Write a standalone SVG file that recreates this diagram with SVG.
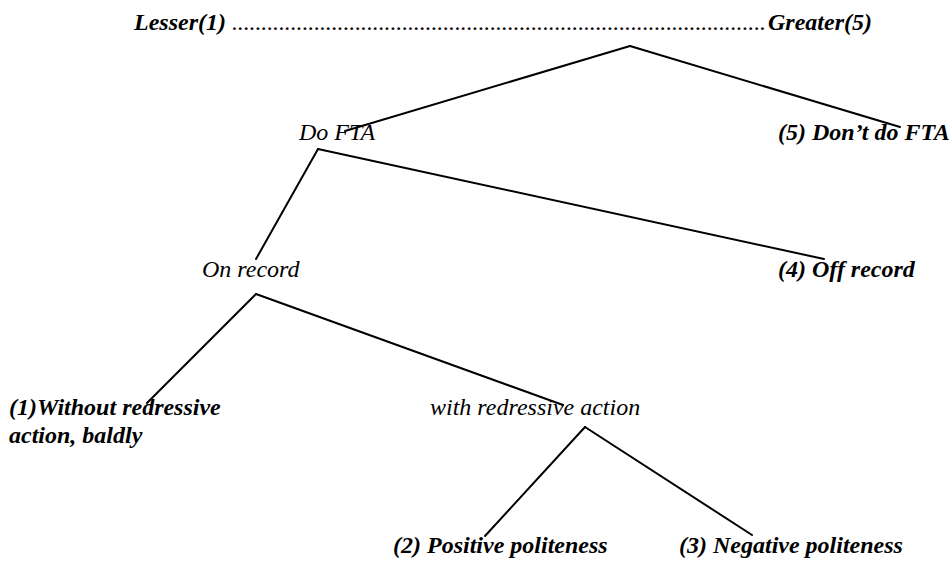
<svg xmlns="http://www.w3.org/2000/svg" width="952" height="561" viewBox="0 0 952 561">
  <style>
    .t { font-family: 'Liberation Serif', 'Times New Roman', Times, serif; font-size: 24px; font-style: italic; fill: #000; }
    .b { font-weight: bold; }
    .conn line { stroke: #000; stroke-width: 2; fill: none; stroke-linecap: round; }
  </style>
  <rect width="952" height="561" fill="#fff"/>
  <g id="scale" class="t">
    <text class="b" x="134" y="30">Lesser(1)</text>
    <text x="232" y="30" textLength="534" lengthAdjust="spacing">...........................................................................................</text>
    <text class="b" x="768" y="30">Greater(5)</text>
  </g>
  <g class="conn" id="connectors">
    <line x1="630" y1="46" x2="345" y2="131"/>
    <line x1="630" y1="46" x2="900" y2="127"/>
    <line x1="318" y1="149" x2="256" y2="259"/>
    <line x1="318" y1="149" x2="824" y2="259"/>
    <line x1="256" y1="294" x2="147" y2="403"/>
    <line x1="256" y1="294" x2="563" y2="405"/>
    <line x1="585" y1="427" x2="485" y2="536"/>
    <line x1="585" y1="427" x2="752" y2="535"/>
  </g>
  <g class="t">
    <g id="do-fta"><text x="299" y="140">Do FTA</text></g>
    <g id="dont-do-fta"><text class="b" x="778" y="140">(5) Don’t do FTA</text></g>
    <g id="on-record"><text x="202" y="277">On record</text></g>
    <g id="off-record"><text class="b" x="778" y="277">(4) Off record</text></g>
    <g id="without-redress"><text class="b" x="9" y="415">(1)Without redressive</text><text class="b" x="9" y="443">action, baldly</text></g>
    <g id="with-redress"><text x="430" y="415">with redressive action</text></g>
    <g id="positive"><text class="b" x="393" y="553">(2) Positive politeness</text></g>
    <g id="negative"><text class="b" x="679" y="553">(3) Negative politeness</text></g>
  </g>
</svg>
